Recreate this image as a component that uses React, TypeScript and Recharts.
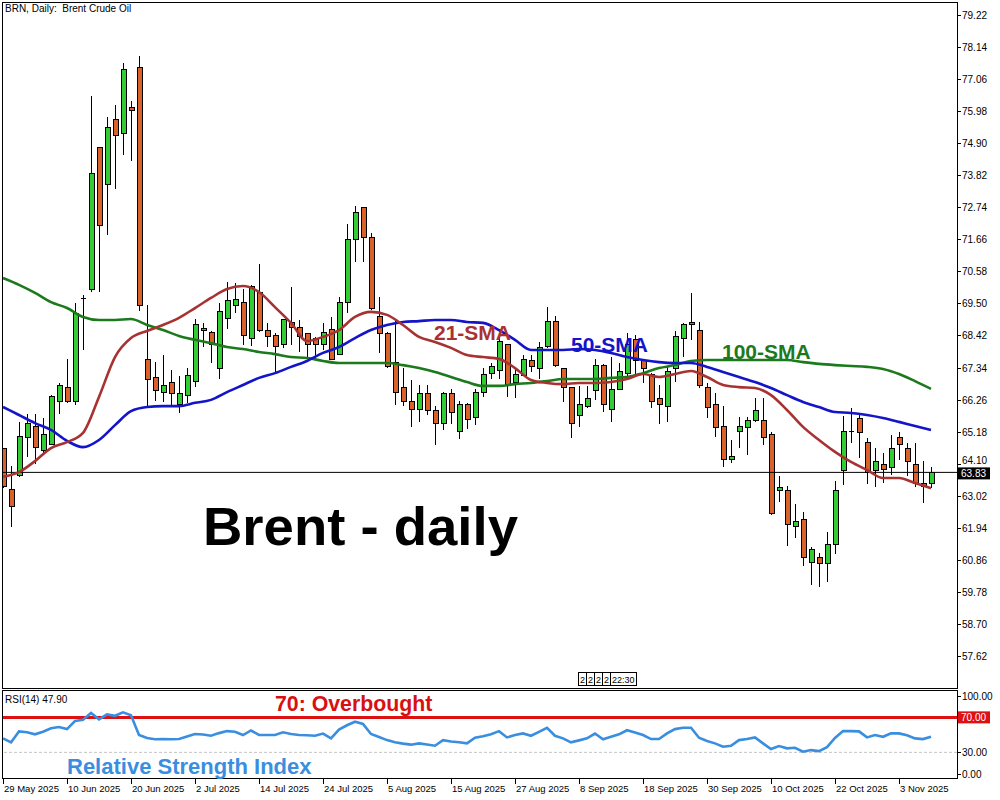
import React from "react"
import {
  ComposedChart,
  Bar,
  Line,
  XAxis,
  YAxis,
  ReferenceLine
} from "recharts"

// daily candles, 29 May 2025 .. 7 Nov 2025 (index 0..116)
const opens = [64.62, 63.24, 63.74, 65.02, 65.36, 64.55, 64.78, 66.20, 66.70, 66.23,
  69.63, 70.00, 74.75, 73.53, 75.69, 75.25, 76.10, 77.47, 67.64, 67.01,
  66.53, 66.84, 66.10, 66.43, 66.90, 68.62, 68.55, 67.31, 69.02, 69.46,
  69.53, 68.32, 69.87, 68.59, 68.42, 68.15, 68.89, 68.72, 68.49, 68.32,
  68.15, 68.65, 67.81, 69.53, 71.65, 72.73, 71.72, 69.09, 68.52, 67.54,
  66.67, 66.20, 65.93, 66.50, 65.90, 65.49, 66.47, 65.19, 66.13, 65.69,
  66.53, 67.17, 67.27, 68.12, 66.87, 67.10, 67.58, 67.31, 68.08, 68.92,
  67.31, 66.67, 65.73, 66.06, 66.60, 67.44, 65.96, 66.63, 67.17, 68.29,
  67.58, 67.14, 66.30, 66.06, 67.31, 68.32, 68.86, 68.59, 66.70, 66.13,
  65.39, 64.28, 65.19, 65.33, 65.56, 65.56, 65.09, 63.23, 63.23, 62.02,
  62.23, 60.81, 60.95, 60.78, 61.39, 63.88, 65.17, 65.66, 64.85, 63.88,
  64.11, 63.98, 64.99, 64.62, 64.11, 63.47, 63.44]

const highs = [64.65, 64.05, 65.52, 65.79, 65.79, 65.66, 66.43, 66.84, 67.64, 69.53,
  69.80, 76.49, 74.78, 75.79, 76.19, 77.60, 76.33, 77.84, 69.46, 67.54,
  67.78, 67.27, 67.07, 67.34, 68.99, 68.86, 68.58, 69.53, 70.23, 70.20,
  70.00, 70.13, 70.84, 68.86, 68.52, 68.99, 70.07, 68.96, 68.52, 68.39,
  68.86, 69.06, 69.73, 72.19, 72.79, 72.76, 71.88, 69.73, 68.55, 68.96,
  67.34, 66.94, 66.77, 66.77, 66.06, 66.53, 66.64, 66.23, 66.16, 66.64,
  67.34, 67.51, 68.39, 68.15, 67.34, 67.78, 67.78, 68.22, 69.39, 69.09,
  67.34, 66.70, 66.74, 66.74, 67.64, 67.47, 67.71, 67.51, 68.52, 68.45,
  67.64, 67.17, 66.77, 67.41, 68.59, 68.86, 69.87, 68.89, 66.84, 66.50,
  66.06, 64.92, 65.69, 65.69, 66.33, 66.33, 65.19, 63.71, 63.37, 62.76,
  62.50, 61.32, 61.12, 61.83, 63.54, 65.73, 66.00, 65.76, 64.99, 64.65,
  64.48, 65.09, 65.19, 64.82, 64.82, 64.21, 64.01]

const lows = [63.30, 61.99, 63.67, 64.35, 64.11, 64.48, 64.75, 65.79, 66.17, 66.10,
  67.95, 69.90, 69.90, 71.82, 73.36, 74.51, 74.31, 69.26, 66.03, 66.23,
  66.20, 66.10, 65.83, 66.17, 66.70, 68.05, 67.51, 66.97, 68.65, 69.19,
  68.12, 68.08, 68.55, 68.05, 67.21, 68.02, 68.12, 67.88, 67.71, 67.61,
  67.95, 67.61, 67.78, 69.19, 70.91, 70.91, 69.29, 67.85, 67.35, 66.10,
  66.06, 65.36, 65.53, 65.76, 64.75, 65.26, 65.46, 64.95, 65.29, 65.43,
  66.37, 66.97, 66.97, 66.37, 66.33, 67.07, 67.21, 66.97, 68.02, 67.38,
  66.20, 64.99, 65.36, 65.99, 66.26, 65.86, 65.53, 66.60, 66.97, 67.10,
  66.84, 66.00, 65.46, 65.53, 66.87, 67.71, 68.29, 66.67, 65.66, 65.02,
  64.01, 64.14, 64.65, 64.41, 65.53, 64.75, 62.39, 62.83, 61.35, 61.62,
  60.68, 60.04, 59.97, 60.14, 61.08, 63.40, 64.82, 64.31, 63.44, 63.34,
  63.47, 63.74, 64.24, 63.71, 63.34, 62.80, 63.31]

const closes = [63.34, 62.67, 65.05, 65.49, 64.68, 65.09, 66.37, 66.74, 66.23, 69.19,
  69.68, 73.90, 72.15, 75.45, 75.15, 77.40, 76.00, 69.43, 66.94, 66.60,
  66.74, 66.47, 66.50, 67.10, 68.82, 68.68, 68.12, 69.23, 69.63, 69.66,
  68.42, 70.07, 68.62, 68.39, 68.08, 68.96, 68.72, 68.39, 68.12, 68.12,
  68.55, 67.64, 69.56, 71.65, 72.59, 71.75, 69.33, 68.49, 67.38, 66.53,
  66.20, 65.93, 66.47, 65.90, 65.49, 66.47, 65.83, 66.13, 65.62, 66.53,
  67.14, 67.38, 68.22, 66.80, 67.14, 67.64, 67.38, 68.02, 68.92, 67.41,
  66.67, 65.49, 66.10, 66.33, 67.44, 66.13, 66.63, 67.21, 68.12, 67.61,
  67.34, 66.20, 66.13, 67.24, 68.39, 68.82, 68.79, 66.74, 66.03, 65.33,
  64.28, 64.35, 65.39, 65.59, 65.90, 64.99, 62.43, 63.33, 62.09, 62.19,
  60.95, 61.22, 60.78, 61.39, 63.23, 65.22, 65.21, 65.16, 63.84, 64.21,
  63.94, 64.62, 64.78, 64.21, 63.47, 63.34, 63.83]

// moving averages at every second candle (0, 2, 4 ... 116)
const sma21 = [63.68, 63.84, 64.21, 64.65, 64.85, 65.16, 66.37, 67.71, 68.35, 68.59,
  68.79, 69.03, 69.36, 69.70, 70.00, 70.10, 69.90, 69.39, 68.86, 68.25,
  68.39, 68.62, 69.06, 69.23, 69.13, 68.79, 68.39, 68.22, 68.02, 67.78,
  67.71, 67.65, 67.34, 66.94, 66.84, 66.80, 66.84, 66.84, 66.87, 66.97,
  67.14, 67.04, 67.14, 67.24, 67.04, 66.77, 66.70, 66.67, 66.43, 65.93,
  65.36, 64.92, 64.52, 64.18, 63.91, 63.64, 63.64, 63.47, 63.30]

const sma50 = [66.03, 65.76, 65.49, 65.26, 64.89, 64.68, 64.92, 65.42, 65.89, 66.03,
  66.06, 66.06, 66.17, 66.27, 66.53, 66.77, 67.01, 67.17, 67.38, 67.58,
  67.85, 68.05, 68.35, 68.62, 68.79, 68.89, 68.92, 68.96, 68.96, 68.89,
  68.86, 68.62, 68.29, 67.95, 67.95, 67.95, 67.98, 67.95, 67.85, 67.71,
  67.61, 67.54, 67.51, 67.51, 67.38, 67.21, 67.04, 66.87, 66.67, 66.43,
  66.20, 66.03, 65.86, 65.83, 65.76, 65.66, 65.53, 65.39, 65.26]

const sma100 = [70.37, 70.14, 69.87, 69.56, 69.36, 69.06, 68.96, 68.96, 68.99, 68.79,
  68.62, 68.42, 68.29, 68.18, 68.05, 67.98, 67.88, 67.81, 67.71, 67.68,
  67.58, 67.51, 67.51, 67.51, 67.51, 67.44, 67.34, 67.21, 67.04, 66.87,
  66.74, 66.74, 66.80, 66.84, 66.90, 66.97, 66.97, 66.97, 67.01, 67.04,
  67.17, 67.34, 67.44, 67.58, 67.61, 67.61, 67.61, 67.61, 67.61, 67.61,
  67.54, 67.48, 67.44, 67.41, 67.38, 67.31, 67.14, 66.90, 66.64]

const rsi = [46, 41.4, 54, 52.9, 50.6, 53.5, 57.5, 58.9, 56.6, 65.8,
  67.3, 75, 67.7, 73.4, 71.8, 75.7, 72.5, 50, 46.5, 45,
  45.2, 45, 45.2, 48, 51, 50.5, 49, 52, 54.3, 53.5,
  49.8, 55, 50, 49.8, 49.8, 52.9, 51, 49.8, 49.5, 49,
  51.5, 46, 56, 61, 65, 62.5, 51, 47.5, 44, 41.5,
  40, 38.8, 40.3, 39, 37.6, 44, 42.5, 41.5, 40.3, 46.7,
  48.5, 50.8, 54.3, 47.1, 49.8, 51.7, 49, 53.5, 58, 49,
  46, 41.5, 43.7, 46, 51.5, 45, 47.8, 50.6, 55.3, 52.7,
  49.8, 45.2, 45.2, 51.7, 56.6, 58.1, 58.1, 46.7, 43, 40.3,
  36.4, 37.6, 44, 45.2, 47, 40.3, 33.8, 37.2, 34.6, 35.3,
  30.7, 32.6, 31.5, 36, 46.5, 54.3, 54.3, 54, 47.1, 49.8,
  47.8, 51.7, 51.7, 49.5, 46, 45.2, 47.9]

const priceTicks = [57.62, 58.70, 59.78, 60.86, 61.94, 63.02, 64.10, 65.18, 66.26, 67.34,
  68.42, 69.50, 70.58, 71.66, 72.74, 73.82, 74.90, 75.98, 77.06, 78.14, 79.22]

const dateTickIdx = [0, 8, 16, 24, 32, 40, 48, 56, 64, 72, 80, 88, 96, 104, 112]
const dateLabels = ["29 May 2025", "10 Jun 2025", "20 Jun 2025", "2 Jul 2025", "14 Jul 2025",
  "24 Jul 2025", "5 Aug 2025", "15 Aug 2025", "27 Aug 2025", "8 Sep 2025",
  "18 Sep 2025", "30 Sep 2025", "10 Oct 2025", "22 Oct 2025", "3 Nov 2025"]

const lastPrice = 63.83
const lastRsi = 47.9

const UP = "#34cc34"
const DOWN = "#d9622b"
const C21 = "#a83232"
const C50 = "#1414c8"
const C100 = "#1c7a1c"
const RSI_COL = "#3a8ee0"
const SMALL = "'Liberation Sans', Arial, sans-serif"
const BIG = "'Liberation Sans', Arial, sans-serif"

const candles = opens.map((o, i) => ({
  i,
  o,
  h: highs[i],
  l: lows[i],
  c: closes[i],
  range: [lows[i], highs[i]]
}))

const smaData = (arr: number[]) => arr.map((v, k) => ({ i: k * 2, v }))
const rsiData = rsi.map((r, i) => ({ i, r }))

const X_DOMAIN: [number, number] = [-0.125, 119.25]

function Candle(props: any) {
  const { x, y, width, height, payload } = props
  const { o, h, l, c } = payload
  const top = Math.min(y, y + height)
  const span = Math.abs(height)
  const k = span / (h - l)
  const cx = Math.round(x + width / 2)
  const yO = top + (h - o) * k
  const yC = top + (h - c) * k
  const bTop = Math.min(yO, yC)
  const bH = Math.abs(yO - yC)
  const up = c >= o
  return (
    <g shapeRendering="crispEdges">
      <line x1={cx} x2={cx} y1={top} y2={top + span} stroke="#000" />
      {bH < 1.5 ? (
        <line x1={cx - 2} x2={cx + 3} y1={bTop} y2={bTop} stroke="#000" />
      ) : (
        <rect x={cx - 2} y={bTop} width={5} height={bH} fill={up ? UP : DOWN} stroke="#000" />
      )}
    </g>
  )
}

function PriceTick(props: any) {
  const { x, y, payload } = props
  // the 64.10 label sits just above the last-price tag, as in the terminal
  const ty = Math.abs(payload.value - 64.1) < 0.001 ? y - 4 : y
  return (
    <g>
      <line x1={x + 1} x2={x + 4} y1={y} y2={y} stroke="#000" shapeRendering="crispEdges" />
      <text x={x + 5} y={ty + 3.5} fontSize={10} fontFamily={SMALL} fill="#000">
        {payload.value.toFixed(2)}
      </text>
    </g>
  )
}

function RsiTick(props: any) {
  const { x, y, payload } = props
  const v = payload.value
  const ty = v >= 100 ? y + 5 : v <= 0 ? y - 4 : y
  return (
    <g>
      <line x1={x + 1} x2={x + 4} y1={ty} y2={ty} stroke="#000" shapeRendering="crispEdges" />
      <text x={x + 5} y={ty + 3.5} fontSize={10} fontFamily={SMALL} fill="#000">
        {v.toFixed(2)}
      </text>
    </g>
  )
}

function DateTick(props: any) {
  const { x, y, payload } = props
  const label = dateLabels[dateTickIdx.indexOf(payload.value)]
  return (
    <g>
      <line x1={x} x2={x} y1={y} y2={y + 5} stroke="#000" shapeRendering="crispEdges" />
      <text x={x + 1} y={y + 13} fontSize={9.5} fontFamily={SMALL} fill="#000">
        {label}
      </text>
    </g>
  )
}

function Tag(bg: string, text: string, dy: number) {
  return (props: any) => {
    const vb = props.viewBox
    const x = vb.x + vb.width
    const y = vb.y + dy
    return (
      <g>
        <rect x={x + 1} y={y - 6} width={32} height={12} fill={bg} />
        <text x={x + 4} y={y + 4} fontSize={10} fontFamily={SMALL} fill="#fff">
          {text}
        </text>
      </g>
    )
  }
}

export default function App() {
  return (
    <div style={{ position: "absolute", left: 0, top: 0, width: 1000, height: 800, background: "#fff" }}>

      <div style={{ position: "absolute", left: 0, top: 0 }}>
        <ComposedChart
          width={1000}
          height={690}
          data={candles}
          margin={{ top: 2, right: 0, bottom: 2, left: 2 }}
        >
          <XAxis type="number" dataKey="i" domain={X_DOMAIN} hide allowDataOverflow />
          <YAxis
            orientation="right"
            width={43}
            domain={[56.575, 79.658]}
            ticks={priceTicks}
            interval={0}
            tick={<PriceTick />}
            tickSize={0}
            tickMargin={0}
            tickLine={false}
            axisLine={false}
            allowDataOverflow
          />
          <Bar dataKey="range" barSize={6} shape={<Candle />} isAnimationActive={false} />
          <ReferenceLine y={lastPrice} stroke="#000" strokeWidth={1} label={Tag("#000", lastPrice.toFixed(2), 1)} />
          <Line data={smaData(sma100)} dataKey="v" type="monotone" stroke={C100} strokeWidth={2.6} dot={false} isAnimationActive={false} />
          <Line data={smaData(sma50)} dataKey="v" type="monotone" stroke={C50} strokeWidth={2.6} dot={false} isAnimationActive={false} />
          <Line data={smaData(sma21)} dataKey="v" type="monotone" stroke={C21} strokeWidth={2.6} dot={false} isAnimationActive={false} />
        </ComposedChart>
      </div>

      <div style={{ position: "absolute", left: 0, top: 690 }}>
        <ComposedChart
          width={1000}
          height={110}
          data={rsiData}
          margin={{ top: 0, right: 0, bottom: 0, left: 2 }}
        >
          <XAxis
            type="number"
            dataKey="i"
            domain={X_DOMAIN}
            ticks={dateTickIdx}
            interval={0}
            height={21}
            tick={<DateTick />}
            tickSize={0}
            tickMargin={0}
            tickLine={false}
            axisLine={false}
            allowDataOverflow
          />
          <YAxis
            orientation="right"
            width={43}
            domain={[-0.46, 101.3]}
            ticks={[0, 30, 100]}
            interval={0}
            tick={<RsiTick />}
            tickSize={0}
            tickMargin={0}
            tickLine={false}
            axisLine={false}
            allowDataOverflow
          />
          <ReferenceLine y={30} stroke="#c4c4c4" strokeDasharray="3 2" />
          <ReferenceLine y={70} stroke="#dd1111" strokeWidth={3} label={Tag("#dd1111", "70.00", 0)} />
          <Line dataKey="r" type="linear" stroke={RSI_COL} strokeWidth={2.6} dot={false} isAnimationActive={false} />
        </ComposedChart>
      </div>

      <svg width={1000} height={800} style={{ position: "absolute", left: 0, top: 0, pointerEvents: "none" }}>
        <rect x={2.5} y={2.5} width={955} height={686} fill="none" stroke="#000" />
        <rect x={2.5} y={690.5} width={955} height={88} fill="none" stroke="#000" />

        <text x={5} y={12} fontSize={10} fontFamily={SMALL} fill="#000" style={{ whiteSpace: "pre" }}>
          {"BRN, Daily:  Brent Crude Oil"}
        </text>

        <text x={203} y={545} fontSize={54.5} fontWeight="bold" fontFamily={BIG} fill="#000">
          Brent - daily
        </text>
        <text x={434} y={340} fontSize={21} fontWeight="bold" fontFamily={BIG} fill={C21}>
          21-SMA
        </text>
        <text x={571} y={352} fontSize={21} fontWeight="bold" fontFamily={BIG} fill={C50}>
          50-SMA
        </text>
        <text x={722} y={359} fontSize={21} fontWeight="bold" fontFamily={BIG} fill={C100}>
          100-SMA
        </text>

        <g fontSize={9} fontFamily={SMALL} fill="#000">
          <rect x={578.5} y={672.5} width={8} height={13} fill="#fff" stroke="#000" />
          <text x={580} y={683}>2</text>
          <rect x={586.5} y={672.5} width={8} height={13} fill="#fff" stroke="#000" />
          <text x={588} y={683}>2</text>
          <rect x={594.5} y={672.5} width={8} height={13} fill="#fff" stroke="#000" />
          <text x={596} y={683}>2</text>
          <rect x={602.5} y={672.5} width={8} height={13} fill="#fff" stroke="#000" />
          <text x={604} y={683}>2</text>
          <rect x={610.5} y={672.5} width={26} height={13} fill="#fff" stroke="#000" />
          <text x={612} y={683}>22:30</text>
        </g>

        <text x={5} y={703} fontSize={10} fontFamily={SMALL} fill="#000">
          {"RSI(14) " + lastRsi.toFixed(2)}
        </text>
        <text x={275} y={711} fontSize={21.3} fontWeight="bold" fontFamily={BIG} fill="#d81010">
          70: Overbought
        </text>
        <text x={67} y={774} fontSize={22} fontWeight="bold" fontFamily={BIG} fill={RSI_COL}>
          Relative Strength Index
        </text>
      </svg>
    </div>
  )
}
